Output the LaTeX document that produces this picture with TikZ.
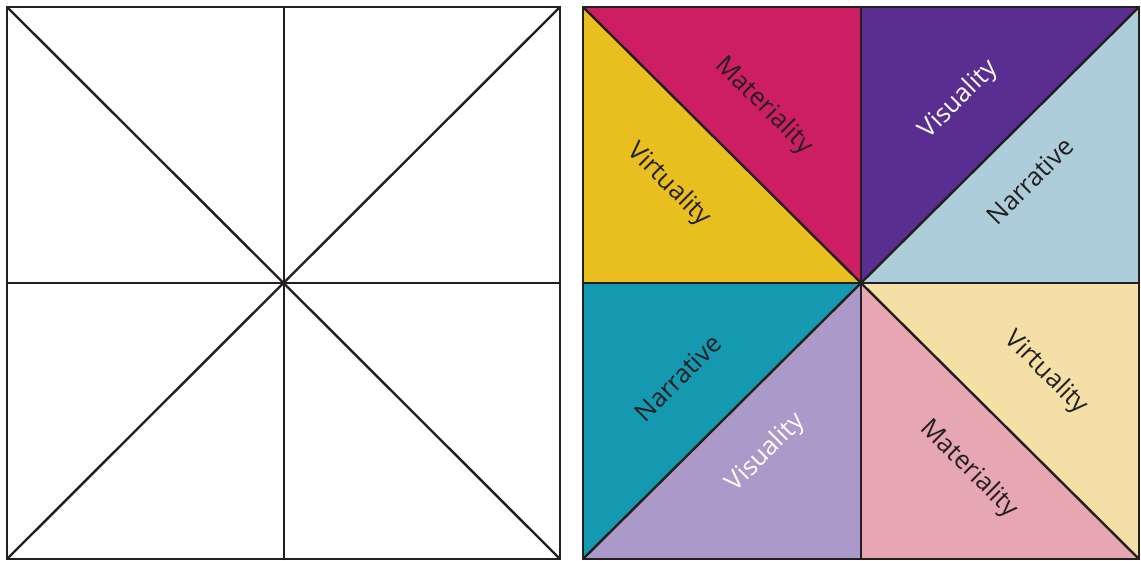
\documentclass[tikz,border=0pt]{standalone}
\usepackage{fontspec}
\setmainfont{Open Sans}
\definecolor{lineC}{HTML}{231F20}
\definecolor{cMag}{HTML}{CD1E63}
\definecolor{cYel}{HTML}{E8BF1E}
\definecolor{cPur}{HTML}{5A2D91}
\definecolor{cLbl}{HTML}{AECDDA}
\definecolor{cTeal}{HTML}{1499B1}
\definecolor{cLav}{HTML}{AA99C9}
\definecolor{cPink}{HTML}{E7A7B2}
\definecolor{cPale}{HTML}{F4E0A6}
\begin{document}
\begin{tikzpicture}[x=1pt,y=-1pt,
  edge/.style={draw=lineC,line width=2.4pt,line cap=round,line join=round},
  lbl/.style={font=\fontsize{25.5}{25.5}\selectfont,inner sep=0pt},
  dk/.style={lbl,text=lineC},
  wt/.style={lbl,text=white}]
\useasboundingbox (0,0) rectangle (1141,561);
% left square
\coordinate (LTL) at (7,7); \coordinate (LTR) at (560,7);
\coordinate (LBL) at (7,559); \coordinate (LBR) at (560,559);
\coordinate (LTM) at (284,7); \coordinate (LBM) at (284,559);
\coordinate (LML) at (7,283); \coordinate (LMR) at (560,283);
% right square
\coordinate (TL) at (583,7); \coordinate (TR) at (1139,7);
\coordinate (BL) at (583,559); \coordinate (BR) at (1139,559);
\coordinate (TM) at (861,7); \coordinate (BM) at (861,559);
\coordinate (ML) at (583,283); \coordinate (MR) at (1139,283);
\coordinate (C) at (861,283);
% fills
\fill[cMag] (TL) -- (TM) -- (C) -- cycle;
\fill[cYel] (TL) -- (ML) -- (C) -- cycle;
\fill[cPur] (TM) -- (TR) -- (C) -- cycle;
\fill[cLbl] (TR) -- (MR) -- (C) -- cycle;
\fill[cTeal] (ML) -- (C) -- (BL) -- cycle;
\fill[cLav] (C) -- (BM) -- (BL) -- cycle;
\fill[cPale] (C) -- (MR) -- (BR) -- cycle;
\fill[cPink] (C) -- (BM) -- (BR) -- cycle;
% lines
\draw[edge] (LTL) rectangle (LBR);
\draw[edge] (LTM) -- (LBM);
\draw[edge] (LML) -- (LMR);
\draw[edge] (LTL) -- (LBR);
\draw[edge] (LTR) -- (LBL);
\draw[edge] (TL) rectangle (BR);
\draw[edge] (TM) -- (BM);
\draw[edge] (ML) -- (MR);
\draw[edge] (TL) -- (BR);
\draw[edge] (TR) -- (BL);
% labels
\node[dk,rotate=-45] (m1) at (764,106) {Materiality};
\node[dk,rotate=-45] (v1) at (669,185) {Virtuality};
\node[wt,rotate=45] (s1) at (959,100) {Visuality};
\node[dk,rotate=45] (n1) at (1030,181) {Narrative};
\node[dk,rotate=45] (n2) at (678,378) {Narrative};
\node[wt,rotate=45] (s2) at (766,453) {Visuality};
\node[dk,rotate=-45] (v2) at (1046,373) {Virtuality};
\node[dk,rotate=-45] (m2) at (969,469) {Materiality};
\end{tikzpicture}
\end{document}
